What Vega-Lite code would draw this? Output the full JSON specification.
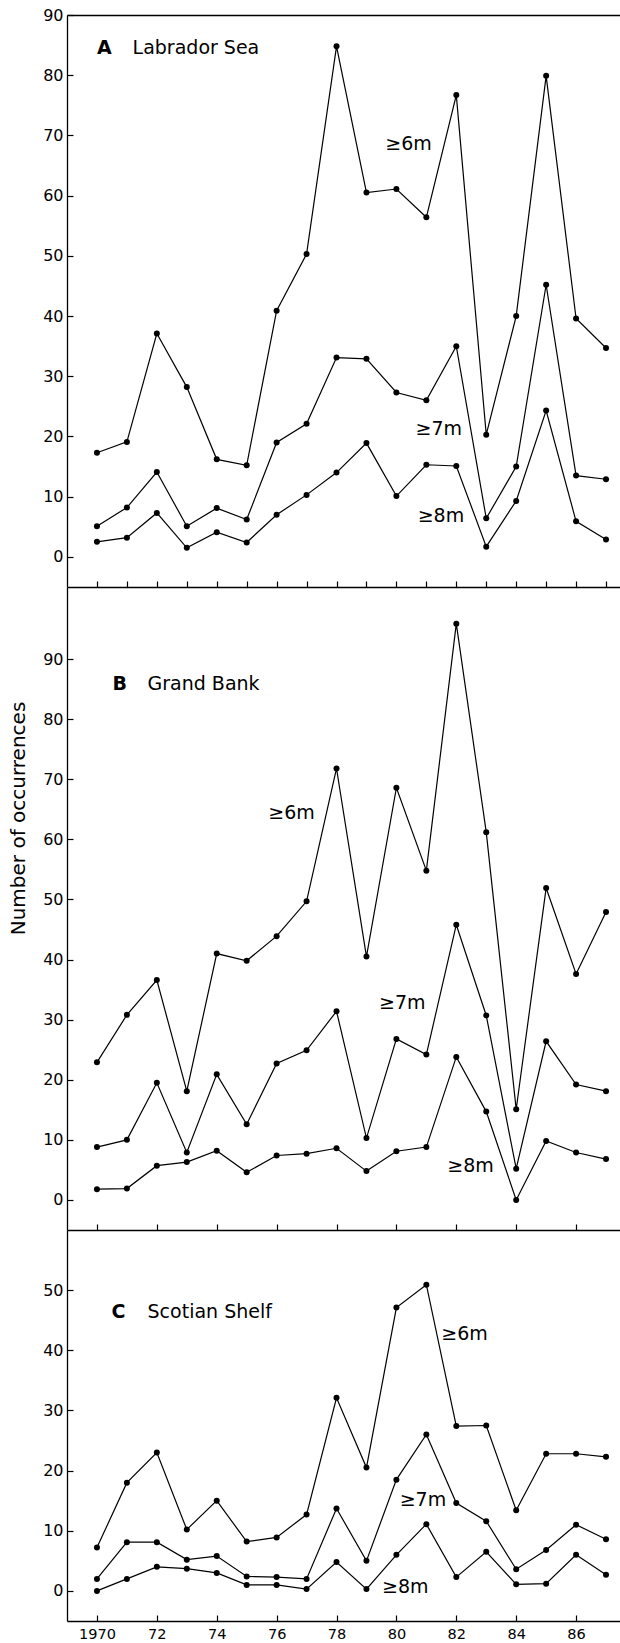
{
  "$schema": "https://vega.github.io/schema/vega-lite/v6.json",
  "background": "white",
  "padding": {"left": 8, "top": 7, "right": 0, "bottom": 0},
  "spacing": 0,
  "bounds": "flush",
  "config": {
    "view": {"stroke": null},
    "font": "DejaVu Sans",
    "axis": {
      "grid": false,
      "domainColor": "black",
      "domainWidth": 1.3,
      "tickColor": "black",
      "tickWidth": 1.2,
      "tickSize": -6,
      "labelColor": "black",
      "labelFont": "DejaVu Sans",
      "labelFontSize": 16,
      "titleFont": "DejaVu Sans",
      "titleFontSize": 20,
      "titleFontWeight": "normal",
      "titleColor": "black"
    }
  },
  "datasets": {
    "series": [
      {"panel":"A","series":"6","year":1970,"value":17.3},{"panel":"A","series":"6","year":1971,"value":19.1},{"panel":"A","series":"6","year":1972,"value":37.1},{"panel":"A","series":"6","year":1973,"value":28.2},{"panel":"A","series":"6","year":1974,"value":16.2},{"panel":"A","series":"6","year":1975,"value":15.2},{"panel":"A","series":"6","year":1976,"value":40.9},{"panel":"A","series":"6","year":1977,"value":50.3},{"panel":"A","series":"6","year":1978,"value":84.8},{"panel":"A","series":"6","year":1979,"value":60.5},{"panel":"A","series":"6","year":1980,"value":61.1},{"panel":"A","series":"6","year":1981,"value":56.4},{"panel":"A","series":"6","year":1982,"value":76.7},{"panel":"A","series":"6","year":1983,"value":20.3},{"panel":"A","series":"6","year":1984,"value":40.0},{"panel":"A","series":"6","year":1985,"value":79.9},{"panel":"A","series":"6","year":1986,"value":39.6},{"panel":"A","series":"6","year":1987,"value":34.7},
      {"panel":"A","series":"7","year":1970,"value":5.1},{"panel":"A","series":"7","year":1971,"value":8.2},{"panel":"A","series":"7","year":1972,"value":14.1},{"panel":"A","series":"7","year":1973,"value":5.1},{"panel":"A","series":"7","year":1974,"value":8.1},{"panel":"A","series":"7","year":1975,"value":6.2},{"panel":"A","series":"7","year":1976,"value":19.0},{"panel":"A","series":"7","year":1977,"value":22.1},{"panel":"A","series":"7","year":1978,"value":33.1},{"panel":"A","series":"7","year":1979,"value":32.9},{"panel":"A","series":"7","year":1980,"value":27.3},{"panel":"A","series":"7","year":1981,"value":26.0},{"panel":"A","series":"7","year":1982,"value":35.0},{"panel":"A","series":"7","year":1983,"value":6.4},{"panel":"A","series":"7","year":1984,"value":15.0},{"panel":"A","series":"7","year":1985,"value":45.2},{"panel":"A","series":"7","year":1986,"value":13.5},{"panel":"A","series":"7","year":1987,"value":12.9},
      {"panel":"A","series":"8","year":1970,"value":2.5},{"panel":"A","series":"8","year":1971,"value":3.2},{"panel":"A","series":"8","year":1972,"value":7.3},{"panel":"A","series":"8","year":1973,"value":1.5},{"panel":"A","series":"8","year":1974,"value":4.1},{"panel":"A","series":"8","year":1975,"value":2.4},{"panel":"A","series":"8","year":1976,"value":7.0},{"panel":"A","series":"8","year":1977,"value":10.3},{"panel":"A","series":"8","year":1978,"value":14.0},{"panel":"A","series":"8","year":1979,"value":18.9},{"panel":"A","series":"8","year":1980,"value":10.1},{"panel":"A","series":"8","year":1981,"value":15.3},{"panel":"A","series":"8","year":1982,"value":15.1},{"panel":"A","series":"8","year":1983,"value":1.7},{"panel":"A","series":"8","year":1984,"value":9.3},{"panel":"A","series":"8","year":1985,"value":24.3},{"panel":"A","series":"8","year":1986,"value":5.9},{"panel":"A","series":"8","year":1987,"value":2.9},
      {"panel":"B","series":"6","year":1970,"value":22.9},{"panel":"B","series":"6","year":1971,"value":30.8},{"panel":"B","series":"6","year":1972,"value":36.6},{"panel":"B","series":"6","year":1973,"value":18.1},{"panel":"B","series":"6","year":1974,"value":41.0},{"panel":"B","series":"6","year":1975,"value":39.8},{"panel":"B","series":"6","year":1976,"value":43.9},{"panel":"B","series":"6","year":1977,"value":49.7},{"panel":"B","series":"6","year":1978,"value":71.8},{"panel":"B","series":"6","year":1979,"value":40.5},{"panel":"B","series":"6","year":1980,"value":68.6},{"panel":"B","series":"6","year":1981,"value":54.8},{"panel":"B","series":"6","year":1982,"value":95.9},{"panel":"B","series":"6","year":1983,"value":61.2},{"panel":"B","series":"6","year":1984,"value":15.1},{"panel":"B","series":"6","year":1985,"value":51.9},{"panel":"B","series":"6","year":1986,"value":37.6},{"panel":"B","series":"6","year":1987,"value":47.9},
      {"panel":"B","series":"7","year":1970,"value":8.8},{"panel":"B","series":"7","year":1971,"value":10.0},{"panel":"B","series":"7","year":1972,"value":19.5},{"panel":"B","series":"7","year":1973,"value":7.9},{"panel":"B","series":"7","year":1974,"value":20.9},{"panel":"B","series":"7","year":1975,"value":12.6},{"panel":"B","series":"7","year":1976,"value":22.7},{"panel":"B","series":"7","year":1977,"value":24.9},{"panel":"B","series":"7","year":1978,"value":31.4},{"panel":"B","series":"7","year":1979,"value":10.3},{"panel":"B","series":"7","year":1980,"value":26.8},{"panel":"B","series":"7","year":1981,"value":24.2},{"panel":"B","series":"7","year":1982,"value":45.8},{"panel":"B","series":"7","year":1983,"value":30.7},{"panel":"B","series":"7","year":1984,"value":5.2},{"panel":"B","series":"7","year":1985,"value":26.4},{"panel":"B","series":"7","year":1986,"value":19.2},{"panel":"B","series":"7","year":1987,"value":18.1},
      {"panel":"B","series":"8","year":1970,"value":1.8},{"panel":"B","series":"8","year":1971,"value":1.9},{"panel":"B","series":"8","year":1972,"value":5.7},{"panel":"B","series":"8","year":1973,"value":6.3},{"panel":"B","series":"8","year":1974,"value":8.2},{"panel":"B","series":"8","year":1975,"value":4.6},{"panel":"B","series":"8","year":1976,"value":7.4},{"panel":"B","series":"8","year":1977,"value":7.7},{"panel":"B","series":"8","year":1978,"value":8.6},{"panel":"B","series":"8","year":1979,"value":4.8},{"panel":"B","series":"8","year":1980,"value":8.1},{"panel":"B","series":"8","year":1981,"value":8.8},{"panel":"B","series":"8","year":1982,"value":23.8},{"panel":"B","series":"8","year":1983,"value":14.7},{"panel":"B","series":"8","year":1984,"value":0.0},{"panel":"B","series":"8","year":1985,"value":9.8},{"panel":"B","series":"8","year":1986,"value":7.9},{"panel":"B","series":"8","year":1987,"value":6.8},
      {"panel":"C","series":"6","year":1970,"value":7.2},{"panel":"C","series":"6","year":1971,"value":18.0},{"panel":"C","series":"6","year":1972,"value":23.0},{"panel":"C","series":"6","year":1973,"value":10.2},{"panel":"C","series":"6","year":1974,"value":15.0},{"panel":"C","series":"6","year":1975,"value":8.2},{"panel":"C","series":"6","year":1976,"value":8.9},{"panel":"C","series":"6","year":1977,"value":12.7},{"panel":"C","series":"6","year":1978,"value":32.1},{"panel":"C","series":"6","year":1979,"value":20.5},{"panel":"C","series":"6","year":1980,"value":47.1},{"panel":"C","series":"6","year":1981,"value":50.9},{"panel":"C","series":"6","year":1982,"value":27.4},{"panel":"C","series":"6","year":1983,"value":27.5},{"panel":"C","series":"6","year":1984,"value":13.4},{"panel":"C","series":"6","year":1985,"value":22.8},{"panel":"C","series":"6","year":1986,"value":22.8},{"panel":"C","series":"6","year":1987,"value":22.3},
      {"panel":"C","series":"7","year":1970,"value":2.0},{"panel":"C","series":"7","year":1971,"value":8.1},{"panel":"C","series":"7","year":1972,"value":8.1},{"panel":"C","series":"7","year":1973,"value":5.2},{"panel":"C","series":"7","year":1974,"value":5.8},{"panel":"C","series":"7","year":1975,"value":2.4},{"panel":"C","series":"7","year":1976,"value":2.3},{"panel":"C","series":"7","year":1977,"value":2.0},{"panel":"C","series":"7","year":1978,"value":13.7},{"panel":"C","series":"7","year":1979,"value":5.0},{"panel":"C","series":"7","year":1980,"value":18.5},{"panel":"C","series":"7","year":1981,"value":26.0},{"panel":"C","series":"7","year":1982,"value":14.6},{"panel":"C","series":"7","year":1983,"value":11.6},{"panel":"C","series":"7","year":1984,"value":3.6},{"panel":"C","series":"7","year":1985,"value":6.8},{"panel":"C","series":"7","year":1986,"value":11.0},{"panel":"C","series":"7","year":1987,"value":8.6},
      {"panel":"C","series":"8","year":1970,"value":0.0},{"panel":"C","series":"8","year":1971,"value":2.0},{"panel":"C","series":"8","year":1972,"value":4.0},{"panel":"C","series":"8","year":1973,"value":3.7},{"panel":"C","series":"8","year":1974,"value":3.0},{"panel":"C","series":"8","year":1975,"value":1.0},{"panel":"C","series":"8","year":1976,"value":1.0},{"panel":"C","series":"8","year":1977,"value":0.3},{"panel":"C","series":"8","year":1978,"value":4.8},{"panel":"C","series":"8","year":1979,"value":0.3},{"panel":"C","series":"8","year":1980,"value":6.0},{"panel":"C","series":"8","year":1981,"value":11.1},{"panel":"C","series":"8","year":1982,"value":2.3},{"panel":"C","series":"8","year":1983,"value":6.5},{"panel":"C","series":"8","year":1984,"value":1.1},{"panel":"C","series":"8","year":1985,"value":1.2},{"panel":"C","series":"8","year":1986,"value":6.0},{"panel":"C","series":"8","year":1987,"value":2.7}
    ],
    "labels": [
      {"panel":"A","kind":"letter","label":"A","year":1970.0,"value":83.5},
      {"panel":"A","kind":"name","label":"Labrador Sea","year":1971.19,"value":83.5},
      {"panel":"A","kind":"series","label":"≥6m","year":1979.63,"value":67.5},
      {"panel":"A","kind":"series","label":"≥7m","year":1980.64,"value":20.3},
      {"panel":"A","kind":"series","label":"≥8m","year":1980.71,"value":5.85},
      {"panel":"B","kind":"letter","label":"B","year":1970.52,"value":84.8},
      {"panel":"B","kind":"name","label":"Grand Bank","year":1971.69,"value":84.8},
      {"panel":"B","kind":"series","label":"≥6m","year":1975.72,"value":63.4},
      {"panel":"B","kind":"series","label":"≥7m","year":1979.42,"value":31.7},
      {"panel":"B","kind":"series","label":"≥8m","year":1981.70,"value":4.7},
      {"panel":"C","kind":"letter","label":"C","year":1970.49,"value":45.3},
      {"panel":"C","kind":"name","label":"Scotian Shelf","year":1971.69,"value":45.3},
      {"panel":"C","kind":"series","label":"≥6m","year":1981.50,"value":41.7},
      {"panel":"C","kind":"series","label":"≥7m","year":1980.11,"value":14.1},
      {"panel":"C","kind":"series","label":"≥8m","year":1979.52,"value":-0.3}
    ]
  },
  "vconcat": [
    {
      "width": 554,
      "height": 572,
      "resolve": {"axis": {"x": "independent"}},
      "layer": [
        {
          "data": {"name": "series"},
          "transform": [{"filter": "datum.panel == 'A'"}],
          "mark": {"type": "line", "color": "black", "strokeWidth": 1.2},
          "encoding": {
            "x": {"field": "year", "type": "quantitative", "scale": {"domain": [1969, 1987.5], "nice": false, "zero": false},
                  "axis": {"orient": "bottom", "values": [1970,1971,1972,1973,1974,1975,1976,1977,1978,1979,1980,1981,1982,1983,1984,1985,1986,1987], "labels": false, "title": null}},
            "y": {"field": "value", "type": "quantitative", "scale": {"domain": [-5, 90], "nice": false, "zero": false},
                  "axis": {"values": [0,10,20,30,40,50,60,70,80,90], "title": null, "labelPadding": 10}},
            "detail": {"field": "series"}
          }
        },
        {
          "data": {"name": "series"},
          "transform": [{"filter": "datum.panel == 'A'"}],
          "mark": {"type": "point", "filled": true, "color": "black", "size": 36, "opacity": 1},
          "encoding": {
            "x": {"field": "year", "type": "quantitative", "axis": null},
            "y": {"field": "value", "type": "quantitative"}
          }
        },
        {
          "data": {"name": "labels"},
          "transform": [{"filter": "datum.panel == 'A' && datum.kind == 'letter'"}],
          "mark": {"type": "text", "align": "left", "baseline": "alphabetic", "fontSize": 19, "fontWeight": "bold", "color": "black"},
          "encoding": {
            "x": {"field": "year", "type": "quantitative", "axis": {"orient": "top", "labels": false, "ticks": false, "title": null, "domain": true}},
            "y": {"field": "value", "type": "quantitative"},
            "text": {"field": "label"}
          }
        },
        {
          "data": {"name": "labels"},
          "transform": [{"filter": "datum.panel == 'A' && datum.kind != 'letter'"}],
          "mark": {"type": "text", "align": "left", "baseline": "alphabetic", "fontSize": 19, "color": "black"},
          "encoding": {
            "x": {"field": "year", "type": "quantitative", "axis": null},
            "y": {"field": "value", "type": "quantitative"},
            "text": {"field": "label"}
          }
        }
      ]
    },
    {
      "width": 554,
      "height": 643,
      "layer": [
        {
          "data": {"name": "series"},
          "transform": [{"filter": "datum.panel == 'B'"}],
          "mark": {"type": "line", "color": "black", "strokeWidth": 1.2},
          "encoding": {
            "x": {"field": "year", "type": "quantitative", "scale": {"domain": [1969, 1987.5], "nice": false, "zero": false},
                  "axis": {"orient": "bottom", "values": [1970,1971,1972,1973,1974,1975,1976,1977,1978,1979,1980,1981,1982,1983,1984,1985,1986,1987], "labels": false, "title": null}},
            "y": {"field": "value", "type": "quantitative", "scale": {"domain": [-5, 102], "nice": false, "zero": false},
                  "axis": {"values": [0,10,20,30,40,50,60,70,80,90], "labelPadding": 10, "title": "Number of occurrences",
                           "titleFontSize": 20, "titleFontWeight": "normal", "titleAngle": -90, "titleAlign": "center",
                           "titleBaseline": "alphabetic", "titleX": -43, "titleY": 231}},
            "detail": {"field": "series"}
          }
        },
        {
          "data": {"name": "series"},
          "transform": [{"filter": "datum.panel == 'B'"}],
          "mark": {"type": "point", "filled": true, "color": "black", "size": 36, "opacity": 1},
          "encoding": {
            "x": {"field": "year", "type": "quantitative"},
            "y": {"field": "value", "type": "quantitative"}
          }
        },
        {
          "data": {"name": "labels"},
          "transform": [{"filter": "datum.panel == 'B' && datum.kind == 'letter'"}],
          "mark": {"type": "text", "align": "left", "baseline": "alphabetic", "fontSize": 19, "fontWeight": "bold", "color": "black"},
          "encoding": {
            "x": {"field": "year", "type": "quantitative"},
            "y": {"field": "value", "type": "quantitative"},
            "text": {"field": "label"}
          }
        },
        {
          "data": {"name": "labels"},
          "transform": [{"filter": "datum.panel == 'B' && datum.kind != 'letter'"}],
          "mark": {"type": "text", "align": "left", "baseline": "alphabetic", "fontSize": 19, "color": "black"},
          "encoding": {
            "x": {"field": "year", "type": "quantitative"},
            "y": {"field": "value", "type": "quantitative"},
            "text": {"field": "label"}
          }
        }
      ]
    },
    {
      "width": 554,
      "height": 391,
      "layer": [
        {
          "data": {"name": "series"},
          "transform": [{"filter": "datum.panel == 'C'"}],
          "mark": {"type": "line", "color": "black", "strokeWidth": 1.2},
          "encoding": {
            "x": {"field": "year", "type": "quantitative", "scale": {"domain": [1969, 1987.5], "nice": false, "zero": false},
                  "axis": {"orient": "bottom", "values": [1970,1971,1972,1973,1974,1975,1976,1977,1978,1979,1980,1981,1982,1983,1984,1985,1986,1987],
                           "labelExpr": "datum.value == 1970 ? '1970' : (datum.value % 2 == 0 ? substring(toString(datum.value), 2, 4) : '')",
                           "labelFontSize": 14.5, "labelPadding": 12, "labelFlush": false, "labelOverlap": false, "title": null}},
            "y": {"field": "value", "type": "quantitative", "scale": {"domain": [-5, 60], "nice": false, "zero": false},
                  "axis": {"values": [0,10,20,30,40,50], "title": null, "labelPadding": 10}},
            "detail": {"field": "series"}
          }
        },
        {
          "data": {"name": "series"},
          "transform": [{"filter": "datum.panel == 'C'"}],
          "mark": {"type": "point", "filled": true, "color": "black", "size": 36, "opacity": 1},
          "encoding": {
            "x": {"field": "year", "type": "quantitative"},
            "y": {"field": "value", "type": "quantitative"}
          }
        },
        {
          "data": {"name": "labels"},
          "transform": [{"filter": "datum.panel == 'C' && datum.kind == 'letter'"}],
          "mark": {"type": "text", "align": "left", "baseline": "alphabetic", "fontSize": 19, "fontWeight": "bold", "color": "black"},
          "encoding": {
            "x": {"field": "year", "type": "quantitative"},
            "y": {"field": "value", "type": "quantitative"},
            "text": {"field": "label"}
          }
        },
        {
          "data": {"name": "labels"},
          "transform": [{"filter": "datum.panel == 'C' && datum.kind != 'letter'"}],
          "mark": {"type": "text", "align": "left", "baseline": "alphabetic", "fontSize": 19, "color": "black"},
          "encoding": {
            "x": {"field": "year", "type": "quantitative"},
            "y": {"field": "value", "type": "quantitative"},
            "text": {"field": "label"}
          }
        }
      ]
    }
  ]
}
